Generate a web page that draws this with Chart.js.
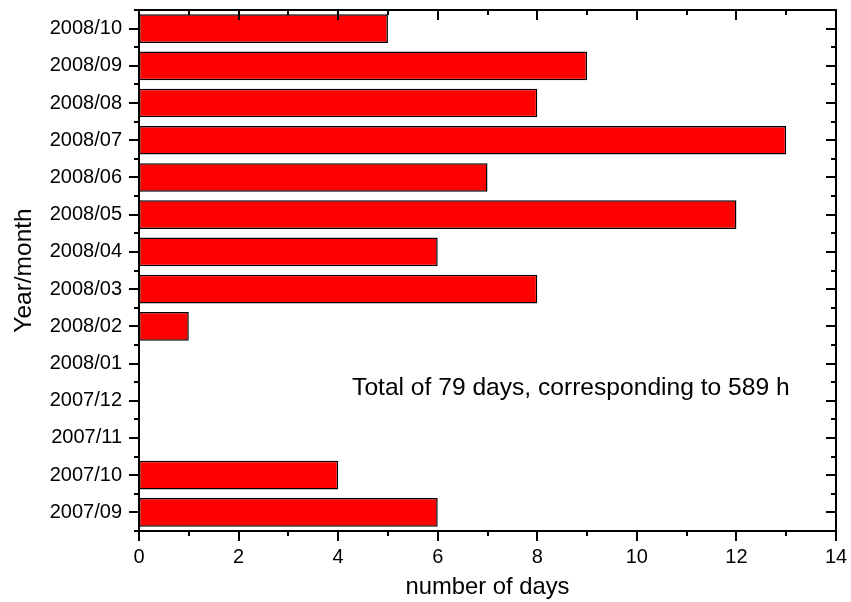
<!DOCTYPE html>
<html>
<head>
<meta charset="utf-8">
<script src="https://cdn.jsdelivr.net/npm/chart.js@4.4.1/dist/chart.umd.min.js"></script>
<style>
  html, body { margin: 0; padding: 0; background: #ffffff; }
  #wrap { width: 851px; height: 602px; }
</style>
</head>
<body>
<div id="wrap"><canvas id="c" width="851" height="602"></canvas></div>
<script>
// Observation months, oldest first (drawn bottom to top)
const months = ['2007/09', '2007/10', '2007/11', '2007/12', '2008/01', '2008/02', '2008/03',
                '2008/04', '2008/05', '2008/06', '2008/07', '2008/08', '2008/09', '2008/10'];
// Number of observing days in each month
const days = [6, 4, 0, 0, 0, 1, 8, 6, 12, 7, 13, 8, 9, 5];
// Value axis range and labelled tick step
const xRange = [0, 14];
const xMajorStep = 2;
const xMinorStep = 1;
const note = 'Total of 79 days, corresponding to 589 h';

const FONT = "'Liberation Sans', Arial, Helvetica, sans-serif";

// Keep the plot area exactly where the layout padding puts it
function noScalePadding(scale) {
  scale.paddingLeft = 0;
  scale.paddingRight = 0;
  scale.paddingTop = 0;
  scale.paddingBottom = 0;
}

// Frame around the plot area plus major/minor tick marks on all four sides
const framePlugin = {
  id: 'frame',
  afterDraw(chart) {
    const { ctx, chartArea: a, scales } = chart;
    const xs = scales.x, ys = scales.y;
    ctx.save();
    ctx.strokeStyle = '#000';
    ctx.lineWidth = 2;
    ctx.lineCap = 'butt';
    ctx.strokeRect(a.left, a.top, a.right - a.left, a.bottom - a.top);

    const MAJ = 10, MIN = 5;
    ctx.beginPath();
    // value axis ticks: outward at the bottom, inward at the top
    for (let v = xRange[0]; v <= xRange[1] + 1e-9; v += xMinorStep) {
      const px = Math.round(xs.getPixelForValue(v));
      const len = (v % xMajorStep === 0) ? MAJ : MIN;
      ctx.moveTo(px, a.bottom); ctx.lineTo(px, a.bottom + len);
      ctx.moveTo(px, a.top); ctx.lineTo(px, a.top + len);
    }
    // category axis: major at centres, minor at boundaries
    const n = months.length;
    for (let i = 0; i < n; i++) {
      const py = Math.round(ys.getPixelForValue(i));
      ctx.moveTo(a.left, py); ctx.lineTo(a.left - MAJ, py);
      ctx.moveTo(a.right, py); ctx.lineTo(a.right - MAJ, py);
    }
    const step = (a.bottom - a.top) / n;
    for (let i = 0; i <= n; i++) {
      const py = Math.round(a.top + i * step);
      ctx.moveTo(a.left, py); ctx.lineTo(a.left - MIN, py);
      ctx.moveTo(a.right, py); ctx.lineTo(a.right - MIN, py);
    }
    ctx.stroke();

    // summary note inside the plot
    ctx.fillStyle = '#000';
    ctx.font = '24.6px ' + FONT;
    ctx.textAlign = 'left';
    ctx.textBaseline = 'alphabetic';
    const nx = xs.getPixelForValue(4.28);
    const ny = ys.getPixelForValue(4) + 31;
    ctx.fillText(note, nx, ny);
    ctx.restore();
  }
};

new Chart(document.getElementById('c'), {
  type: 'bar',
  data: {
    labels: months,
    datasets: [{
      data: days,
      backgroundColor: '#ff0000',
      borderColor: '#000000',
      borderWidth: 1.5,
      borderSkipped: false,
      barPercentage: 0.77,
      categoryPercentage: 1.0
    }]
  },
  options: {
    indexAxis: 'y',
    responsive: false,
    animation: false,
    layout: { padding: { top: 10, right: 15, left: 0, bottom: 0 } },
    plugins: { legend: { display: false }, tooltip: { enabled: false } },
    scales: {
      x: {
        type: 'linear',
        min: xRange[0],
        max: xRange[1],
        grid: { display: false, drawTicks: false },
        border: { display: false },
        ticks: {
          stepSize: xMajorStep,
          color: '#000',
          font: { family: FONT, size: 20 },
          padding: 14,
          maxRotation: 0
        },
        title: {
          display: true,
          text: 'number of days',
          color: '#000',
          font: { family: FONT, size: 23.8 },
          padding: { top: 0, bottom: 0 }
        },
        afterFit(scale) { scale.height = 71; noScalePadding(scale); }
      },
      y: {
        type: 'category',
        reverse: true,
        grid: { display: false, drawTicks: false },
        border: { display: false },
        ticks: {
          color: '#000',
          font: { family: FONT, size: 20 },
          padding: 17
        },
        title: {
          display: true,
          text: 'Year/month',
          color: '#000',
          font: { family: FONT, size: 24.5 },
          padding: { top: 10, bottom: 0 }
        },
        afterFit(scale) { scale.width = 139; noScalePadding(scale); }
      }
    }
  },
  plugins: [framePlugin]
});
</script>
</body>
</html>
